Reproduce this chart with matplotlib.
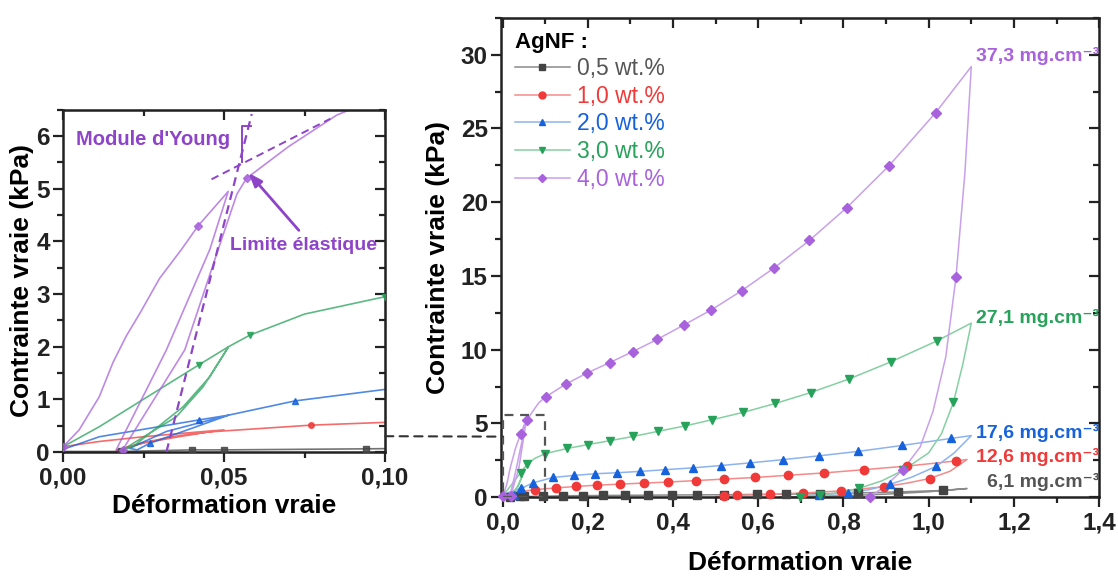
import numpy as np
import matplotlib.pyplot as plt
from matplotlib.lines import Line2D
from matplotlib.patches import ConnectionPatch, Rectangle
from matplotlib.ticker import MultipleLocator, FuncFormatter

plt.rcParams['font.family'] = ['Liberation Sans', 'DejaVu Sans']

# Donnees : chemin complet (boucle initiale, charge, decharge)
# et indices des points qui portent un marqueur.

# 0,5 wt.% AgNF
gris_x = [0.0, 0.018, 0.04, 0.05, 0.094, 0.141, 0.189, 0.236, 0.288, 0.34, 0.397,
          0.457, 0.52, 0.596, 0.666, 0.745, 0.834, 0.929, 1.033, 1.09,
          1.0, 0.9, 0.8, 0.72, 0.65]
gris_y = [0.01, 0.01, 0.04, 0.04, 0.06, 0.09, 0.1, 0.11, 0.12, 0.13, 0.14,
          0.15, 0.16, 0.18, 0.2, 0.23, 0.28, 0.35, 0.45, 0.58,
          0.36, 0.2, 0.09, 0.03, 0.0]
gris_marques = list(range(1, 19))

# 1,0 wt.%
rouge_x = [0.0, 0.0113, 0.025, 0.038, 0.05, 0.035, 0.025, 0.0165, 0.025, 0.035, 0.045,
           0.077, 0.125, 0.172, 0.222, 0.276, 0.331, 0.389, 0.454, 0.519, 0.593, 0.67,
           0.755, 0.848, 0.948, 1.064, 1.09,
           1.05, 1.002, 0.95, 0.894, 0.794, 0.705, 0.628, 0.55, 0.519, 0.5]
rouge_y = [0.1, 0.2, 0.29, 0.36, 0.42, 0.3, 0.18, 0.03, 0.17, 0.28, 0.38,
           0.51, 0.62, 0.72, 0.81, 0.88, 0.95, 1.02, 1.12, 1.22, 1.33, 1.48,
           1.64, 1.86, 2.1, 2.45, 2.55,
           1.75, 1.26, 0.95, 0.7, 0.42, 0.28, 0.18, 0.12, 0.07, 0.05]
rouge_marques = list(range(11, 26)) + [28, 30, 31, 32, 33, 34, 35]

# 2,0 wt.%
bleu_x = [0.0, 0.0113, 0.0423, 0.0514, 0.0321, 0.0206, 0.023, 0.0269, 0.04, 0.0514,
          0.072, 0.118, 0.168, 0.216, 0.268, 0.322, 0.382, 0.446, 0.512, 0.581,
          0.658, 0.743, 0.835, 0.937, 1.053, 1.10,
          1.06, 1.018, 0.96, 0.909, 0.86, 0.811, 0.743, 0.70]
bleu_y = [0.05, 0.29, 0.61, 0.70, 0.39, 0.07, 0.04, 0.165, 0.45, 0.70,
          0.97, 1.33, 1.47, 1.58, 1.65, 1.74, 1.86, 1.98, 2.14, 2.32,
          2.54, 2.80, 3.10, 3.50, 3.98, 4.17,
          3.0, 2.09, 1.35, 0.86, 0.5, 0.29, 0.15, 0.05]
bleu_marques = [2, 7] + list(range(10, 25)) + [27, 29, 31, 32]

# 3,0 wt.%
vert_x = [0.0, 0.01125, 0.0423, 0.0514, 0.0456, 0.0373, 0.0217, 0.0185, 0.0352, 0.0435,
          0.0514, 0.058, 0.075, 0.1, 0.152, 0.2, 0.253, 0.307, 0.365, 0.427, 0.492,
          0.564, 0.64, 0.723, 0.812, 0.911, 1.019, 1.10,
          1.08, 1.058, 1.03, 1.0, 0.94, 0.89, 0.836, 0.79, 0.745, 0.699]
vert_y = [0.1, 0.48, 1.66, 2.0, 1.43, 0.86, 0.1, 0.04, 0.67, 1.24,
          2.0, 2.22, 2.62, 2.95, 3.3, 3.56, 3.83, 4.12, 4.46, 4.82, 5.25,
          5.74, 6.35, 7.09, 8.0, 9.17, 10.59, 11.8,
          9.0, 6.42, 4.3, 3.0, 1.82, 1.1, 0.59, 0.3, 0.13, 0.03]
vert_marques = [2, 11] + list(range(13, 27)) + [29, 32, 34, 36, 37]

# 4,0 wt.%
violet_x = [0.0, 0.005, 0.01125, 0.0155, 0.0196, 0.024, 0.030, 0.0368, 0.042, 0.0513,
            0.0456, 0.0321, 0.0165, 0.0185, 0.0378, 0.0482, 0.054, 0.057, 0.07, 0.085,
            0.101, 0.148, 0.197, 0.251, 0.305, 0.363, 0.425, 0.49, 0.561, 0.637, 0.72,
            0.808, 0.907, 1.016, 1.10,
            1.085, 1.064, 1.04, 1.01, 0.98, 0.94, 0.9, 0.862]
violet_y = [0.1, 0.42, 1.05, 1.7, 2.2, 2.65, 3.3, 3.85, 4.3, 4.95,
            3.85, 1.94, 0.04, 0.04, 1.94, 3.85, 4.9, 5.2, 5.8, 6.4,
            6.8, 7.66, 8.4, 9.12, 9.86, 10.7, 11.67, 12.7, 14.0, 15.54, 17.41,
            19.64, 22.48, 26.06, 29.2,
            22.0, 14.9, 9.5, 5.8, 3.4, 1.87, 0.8, 0.02]
violet_marques = [0, 8, 13, 17] + list(range(20, 34)) + [36, 40, 42]

legendes = ["0,5 wt.%", "1,0 wt.%", "2,0 wt.%", "3,0 wt.%", "4,0 wt.%"]
densites = ["6,1", "12,6", "17,6", "27,1", "37,3"]
densite_pos_x = [1.137, 1.111, 1.111, 1.111, 1.111]
densite_pos_y = [1.0, 2.7, 4.32, 12.16, 29.9]

series = [(gris_x, gris_y, gris_marques, "#444444", "#8a8a8a", "s"),
          (rouge_x, rouge_y, rouge_marques, "#f03a3a", "#f58a8a", "o"),
          (bleu_x, bleu_y, bleu_marques, "#1662dc", "#8db3ef", "^"),
          (vert_x, vert_y, vert_marques, "#27a25a", "#86cfa3", "v"),
          (violet_x, violet_y, violet_marques, "#a862dc", "#c9a0ea", "D")]

texte_couleurs = ["#555555", "#f03a3a", "#1662dc", "#27a25a", "#a862dc"]
violet_fonce = "#8e44c9"


def virgule(fmt):
    return FuncFormatter(lambda v, pos: (fmt % v).replace(".", ","))


def style_axes(ax, xmaj, xmin, ymaj, ymin, xfmt):
    ax.xaxis.set_major_locator(MultipleLocator(xmaj))
    ax.xaxis.set_minor_locator(MultipleLocator(xmin))
    ax.yaxis.set_major_locator(MultipleLocator(ymaj))
    ax.yaxis.set_minor_locator(MultipleLocator(ymin))
    ax.xaxis.set_major_formatter(virgule(xfmt))
    ax.yaxis.set_major_formatter(FuncFormatter(lambda v, pos: "%d" % v))
    ax.tick_params(which="both", direction="out", width=1.6, colors="#222222",
                   labelsize=17.5)
    ax.tick_params(which="major", length=7)
    ax.tick_params(which="minor", length=4)
    ax.tick_params(axis="y", pad=2.5)
    for lab in ax.get_xticklabels() + ax.get_yticklabels():
        lab.set_fontweight("bold")
    for s in ax.spines.values():
        s.set_linewidth(1.8)
        s.set_color("#222222")
    # graduations miroir vers l'interieur (haut et droite)
    haut = ax.secondary_xaxis("top")
    haut.xaxis.set_major_locator(MultipleLocator(xmaj))
    haut.xaxis.set_minor_locator(MultipleLocator(xmin))
    haut.tick_params(which="both", direction="in", width=1.6, labeltop=False,
                     colors="#222222")
    haut.tick_params(which="major", length=7)
    haut.tick_params(which="minor", length=4)
    droite = ax.secondary_yaxis("right")
    droite.yaxis.set_major_locator(MultipleLocator(ymaj))
    droite.yaxis.set_minor_locator(MultipleLocator(ymin))
    droite.tick_params(which="both", direction="in", width=1.6, labelright=False,
                       colors="#222222")
    droite.tick_params(which="major", length=7)
    droite.tick_params(which="minor", length=4)
    ax.set_xlabel("Déformation vraie", fontsize=19, fontweight="bold")
    ax.set_ylabel("Contrainte vraie (kPa)", fontsize=19, fontweight="bold")


fig = plt.figure(figsize=(11.18, 5.78), dpi=100)
ax_zoom = fig.add_axes([0.0564, 0.218, 0.288, 0.592])
ax = fig.add_axes([0.4481, 0.140, 0.535, 0.829])

# --- graphe principal ---
for (x, y, mk, c, cl, m), lab in zip(series, legendes):
    x = np.array(x)
    y = np.array(y)
    ax.plot(x, y, color=cl, lw=1.1, clip_on=False, zorder=2)
    ax.plot(x[mk], y[mk], ls="none", marker=m, color=c,
            ms=6 if m != "D" else 5.5, clip_on=False, zorder=3)

ax.set_xlim(-0.004, 1.4)
ax.set_ylim(0, 32.5)
style_axes(ax, 0.2, 0.1, 5, 2.5, "%.1f")
ax.xaxis.labelpad = 12
ax.yaxis.labelpad = 8

for txt, px, py, c in zip(densites, densite_pos_x, densite_pos_y, texte_couleurs):
    ax.text(px, py, txt + " mg.cm⁻³", color=c, fontsize=14,
            fontweight="bold", ha="left", va="center")

ax.add_patch(Rectangle((0.0, 0.0), 0.1, 5.55, fill=False, ls=(0, (4, 3)),
                       lw=1.6, edgecolor="#555555", zorder=4))

poignees = [Line2D([], [], color=cl, lw=1.1, marker=m, markerfacecolor=c,
                   markeredgecolor=c, ms=5 if m != "D" else 4.5)
            for (_, _, _, c, cl, m) in series]
leg = ax.legend(poignees, legendes, title="AgNF :", loc="upper left",
                bbox_to_anchor=(0.0, 1.0), frameon=False, fontsize=16.5,
                handlelength=2.4, handletextpad=0.3, labelspacing=0.2,
                borderaxespad=0.2, alignment="left")
leg.get_title().set_fontweight("bold")
leg.get_title().set_fontsize(16)
for t, c in zip(leg.get_texts(), texte_couleurs):
    t.set_color(c)

# --- agrandissement 0 - 0,1 ---
for (x, y, mk, c, cl, m) in series:
    x = np.array(x)
    y = np.array(y)
    ax_zoom.plot(x, y, color=c, lw=1.2, alpha=0.75, zorder=2)
    ax_zoom.plot(x[mk], y[mk], ls="none", marker=m, color=c, ms=4, alpha=0.85,
                 zorder=3)

ax_zoom.set_xlim(0, 0.1)
ax_zoom.set_ylim(0, 6.5)
style_axes(ax_zoom, 0.05, 0.025, 1, 0.5, "%.2f")
ax_zoom.xaxis.labelpad = 3
ax_zoom.yaxis.labelpad = 2

# module d'Young et limite elastique
ax_zoom.plot([0.0321, 0.0586], [0.0, 6.42], color=violet_fonce, lw=1.6,
             ls=(0, (4, 2.5)), zorder=4)
ax_zoom.plot([0.0461, 0.083], [5.18, 6.33], color=violet_fonce, lw=1.4,
             ls=(0, (4, 2.5)), zorder=4)
ax_zoom.plot([0.0583, 0.0555, 0.0555], [6.2, 6.2, 5.5], color=violet_fonce,
             lw=1.4, zorder=4)
ax_zoom.text(0.004, 5.93, "Module d'Young", color=violet_fonce, fontsize=14.5,
             fontweight="bold", ha="left", va="center")
ax_zoom.annotate("", xy=(0.0571, 5.34), xytext=(0.0738, 4.17),
                 arrowprops=dict(arrowstyle="-|>,head_length=0.8,head_width=0.3",
                                 color=violet_fonce, lw=2))
ax_zoom.text(0.0519, 3.92, "Limite élastique", color=violet_fonce, fontsize=14,
             fontweight="bold", ha="left", va="center")

# liaison entre les deux graphes
lien = ConnectionPatch(xyA=(0.1, 0.30), coordsA=ax_zoom.transData,
                       xyB=(0.0, 4.1), coordsB=ax.transData,
                       ls=(0, (4, 3)), lw=1.5, color="#333333")
fig.add_artist(lien)

fig.savefig("out.png", dpi=100)
